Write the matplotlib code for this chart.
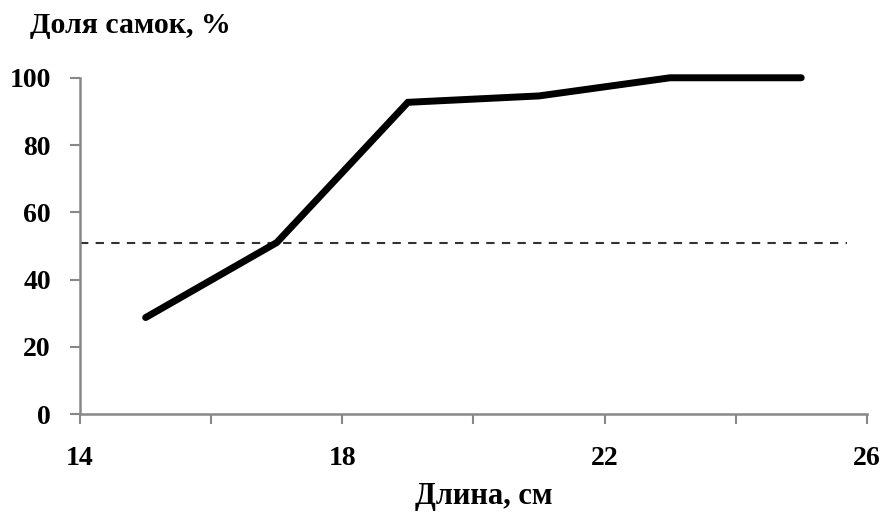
import matplotlib
matplotlib.use("Agg")
import matplotlib.pyplot as plt

length_cm = [15, 17, 19, 21, 23, 25]
female_share = [28.7, 51, 92.7, 94.6, 100, 100]
threshold = 51
threshold_x = [14, 25.7]
x_ticks = [14, 16, 18, 20, 22, 24, 26]
x_labels = ["14", "", "18", "", "22", "", "26"]
y_ticks = [0, 20, 40, 60, 80, 100]

plt.rcParams['font.family'] = ['Liberation Serif', 'DejaVu Serif']
plt.rcParams['font.weight'] = 'bold'

fig = plt.figure(figsize=(8.8, 5.15), dpi=100)
ax = fig.add_axes([0.091, 0.196, 0.894, 0.653])

ax.plot(threshold_x, [threshold, threshold], color='#333333', lw=1.5,
        dashes=(4, 3.5))
ax.plot(length_cm, female_share, color='black', lw=5, clip_on=False,
        solid_joinstyle='miter', solid_capstyle='round')

ax.set_xlim(14, 26)
ax.set_ylim(0, 100)
ax.set_xticks(x_ticks)
ax.set_xticklabels(x_labels)
ax.set_yticks(y_ticks)

for s in ['top', 'right']:
    ax.spines[s].set_visible(False)
for s in ['left', 'bottom']:
    ax.spines[s].set_color('#888888')
    ax.spines[s].set_linewidth(1.8)

ax.tick_params(axis='both', direction='out', color='#888888', width=1.5,
               length=7, labelsize=20)
ax.tick_params(axis='y', pad=14)
ax.tick_params(axis='x', pad=16)
for lab in ax.get_xticklabels() + ax.get_yticklabels():
    lab.set_fontweight('bold')

fig.text(0.034, 0.951, "Доля самок, %", fontsize=21.5, fontweight='bold',
         ha='left', va='center')
fig.text(0.550, 0.035, "Длина, см", fontsize=22, fontweight='bold',
         ha='center', va='center')

fig.savefig("out.png", dpi=100, facecolor='white')
